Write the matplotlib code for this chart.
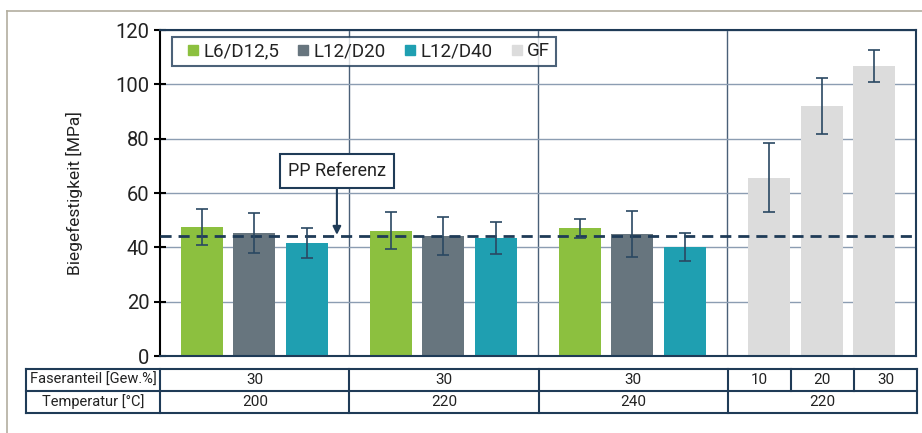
import matplotlib.pyplot as plt
from matplotlib.lines import Line2D

plt.rcParams['font.family'] = ['Roboto', 'DejaVu Sans']

series = ['L6/D12,5', 'L12/D20', 'L12/D40', 'GF']
colors = ['#8cc03f', '#67757e', '#1f9fb1', '#dcdcdc']

# groups 1-3: PP with fibres at 200/220/240 degC, group 4: GF 10/20/30
mean_l6 = [47.5, 46.2, 47.0]
err_l6 = [6.7, 6.8, 3.6]
mean_l20 = [45.4, 44.0, 45.0]
err_l20 = [7.4, 7.0, 8.5]
mean_l40 = [41.6, 43.4, 40.0]
err_l40 = [5.6, 6.0, 5.2]
mean_gf = [65.7, 92.0, 106.7]
err_gf = [12.7, 10.2, 6.0]

pp_ref = 44.3

fasern = ['30', '30', '30', '10', '20', '30']
temperatur = ['200', '220', '240', '220']

navy = '#1f3b57'
group_w = 3.6
bar_w = 0.8

fig = plt.figure(figsize=(9.22, 4.33), dpi=100)
ax = fig.add_axes([0.1735, 0.1778, 0.82, 0.7529])

for g in range(4):
    if g < 3:
        vals = [mean_l6[g], mean_l20[g], mean_l40[g]]
        errs = [err_l6[g], err_l20[g], err_l40[g]]
        cols = colors[:3]
    else:
        vals = mean_gf
        errs = err_gf
        cols = [colors[3]] * 3
    xs = [group_w * g + i for i in range(3)]
    ax.bar(xs, vals, width=bar_w, color=cols, zorder=2)
    ax.errorbar(xs, vals, yerr=errs, fmt='none', ecolor='#2a4862',
                elinewidth=1.2, capsize=4, capthick=1.2, zorder=4)

ax.axhline(pp_ref, color=navy, lw=2, ls=(0, (4, 2.5)), zorder=3)

ax.set_xlim(-0.8, group_w * 4 - 0.8)
ax.set_ylim(0, 120)
ax.set_yticks(range(0, 121, 20))
ax.set_xticks([])
ax.grid(axis='y', color='#8c9db2', lw=1, zorder=0)
for g in range(1, 4):
    ax.axvline(group_w * g - 0.8, color='#4a6078', lw=1, zorder=1)

ax.tick_params(axis='y', direction='inout', length=9, width=1.5,
               labelsize=14.5, colors='black', labelcolor='#222222', pad=3)
ax.spines['left'].set_color('black')
ax.spines['left'].set_linewidth(1.5)
for s in ['top', 'right', 'bottom']:
    ax.spines[s].set_color(navy)
    ax.spines[s].set_linewidth(1.5)
ax.set_ylabel('Biegefestigkeit [MPa]', fontsize=12.5, color='#222222', labelpad=23)

handles = [Line2D([], [], marker='s', ls='none', color=c, markersize=7.5) for c in colors]
leg = ax.legend(handles, series, loc='upper left', ncol=4, fontsize=13.5,
                frameon=True, fancybox=False, edgecolor=navy,
                bbox_to_anchor=(0.016, 0.979), borderaxespad=0,
                handlelength=1.6, handletextpad=-0.25,
                columnspacing=0.5, borderpad=0.3)
leg.get_frame().set_linewidth(1.5)
for t in leg.get_texts():
    t.set_color('#222222')

ax.annotate('PP Referenz', xy=(2.57, pp_ref + 0.3), xytext=(2.57, 68),
            ha='center', va='center', fontsize=13, color='#222222',
            bbox=dict(boxstyle='square,pad=0.45', fc='white', ec=navy, lw=1.5),
            arrowprops=dict(arrowstyle='-|>', color=navy, lw=1.5,
                            mutation_scale=12, shrinkA=0, shrinkB=0),
            zorder=5)

# table below the chart
tx = fig.add_axes([0.0282, 0.0462, 0.9664, 0.1016])
left = -0.8 - 134 / 52.5
right = group_w * 4 - 0.8
tx.set_xlim(left, right)
tx.set_ylim(0, 2)
tx.axis('off')
lkw = dict(color=navy, lw=1.5, clip_on=False)
for yv in [0, 1, 2]:
    tx.plot([left, right], [yv, yv], **lkw)
bounds = [left] + [group_w * g - 0.8 for g in range(5)]
for b in bounds:
    tx.plot([b, b], [0, 2], **lkw)
sub = [group_w * 3 - 0.8 + group_w * k / 3 for k in range(4)]
for b in sub[1:3]:
    tx.plot([b, b], [1, 2], **lkw)

lab_kw = dict(ha='center', va='center', fontsize=10.5, color='#222222')
tkw = dict(ha='center', va='center', fontsize=11, color='#222222')
tx.text((left - 0.8) / 2, 1.5, 'Faseranteil [Gew.%]', **lab_kw)
tx.text((left - 0.8) / 2, 0.5, 'Temperatur [°C]', **lab_kw)
for g in range(3):
    c = group_w * g - 0.8 + group_w / 2
    tx.text(c, 1.5, fasern[g], **tkw)
    tx.text(c, 0.5, temperatur[g], **tkw)
for k in range(3):
    tx.text((sub[k] + sub[k + 1]) / 2, 1.5, fasern[3 + k], **tkw)
tx.text(group_w * 3 - 0.8 + group_w / 2, 0.5, temperatur[3], **tkw)

# outer frame (top and left edge)
fc = '#b3ae9f'
fig.add_artist(Line2D([7 / 922, 1], [1 - 11 / 433] * 2, color=fc, lw=1.2))
fig.add_artist(Line2D([7 / 922] * 2, [0, 1 - 11 / 433], color=fc, lw=1.2))

fig.savefig('out.png', dpi=100)
